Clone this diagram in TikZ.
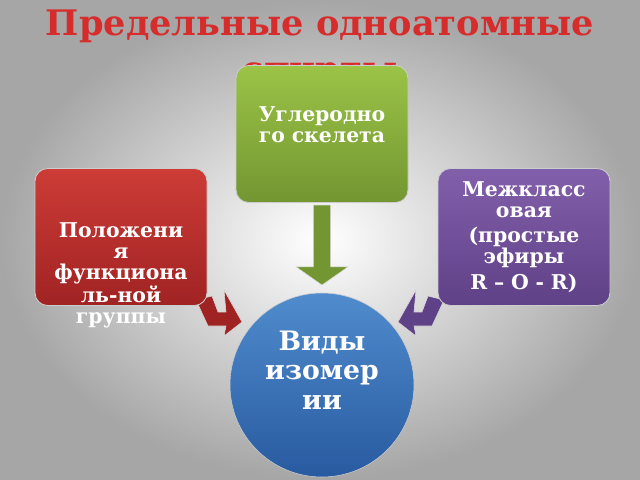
\documentclass[tikz,border=0pt]{standalone}
\usepackage{fontspec}
\setmainfont{DejaVu Serif}
\usetikzlibrary{shapes.arrows}
\definecolor{tred}{RGB}{214,44,44}
\definecolor{gtop}{RGB}{155,195,70}
\definecolor{gbot}{RGB}{115,150,50}
\definecolor{rtop}{RGB}{205,60,55}
\definecolor{rbot}{RGB}{160,35,35}
\definecolor{ptop}{RGB}{130,95,170}
\definecolor{pbot}{RGB}{95,65,135}
\definecolor{btop}{RGB}{80,140,205}
\definecolor{bbot}{RGB}{40,90,160}
\newlength\unitpx \setlength\unitpx{0.025cm}
\tikzset{
  card/.style={rounded corners=9pt,minimum width=172\unitpx,minimum height=137\unitpx,
    text width=168\unitpx,align=center,text=white,font=\bfseries\fontsize{14.5}{15}\selectfont,
    draw=white!60!gray,line width=0.6pt,inner sep=1pt},
}
\begin{document}
\begin{tikzpicture}[x=0.025cm,y=-0.025cm]
  \shade[inner color=white,outer color=gray!70] (0,0) rectangle (640,480);
  \useasboundingbox (0,0) rectangle (640,480);
  \node[text=tred,font=\bfseries\fontsize{25}{28}\selectfont] (title) at (320,26) {Предельные одноатомные};
  \node[text=tred,font=\bfseries\fontsize{25}{28}\selectfont] (title2) at (320,76) {спирты};
  % arrows
  \fill[rbot,draw=white!70!gray] (196,300) -- (212,296) -- (218,312) -- (226,312) -- (224,290)
    -- (242,322) -- (224,336) -- (226,326) -- (208,326) -- cycle;
  \fill[pbot,draw=white!70!gray] (444,300) -- (428,296) -- (422,312) -- (414,312) -- (416,290)
    -- (398,322) -- (416,336) -- (414,326) -- (432,326) -- cycle;
  % cards
  \node[card,top color=gtop,bottom color=gbot,text depth=40\unitpx] (carb) at (322,134) {Углеродно\\го скелета};
  \node[card,top color=rtop,bottom color=rbot,text depth=14\unitpx] (pos) at (121,237) {Положени\\я\\функциона\\ль-ной\\группы};
  \node[card,top color=ptop,bottom color=pbot] (inter) at (524,237) {Межкласс\\овая\\[3pt](простые\\эфиры\\[3pt]R – O - R)};
  \node[single arrow,shape border rotate=270,fill=gbot,draw=white!70!gray,
    minimum height=80\unitpx,minimum width=52\unitpx,single arrow head extend=10\unitpx,
    single arrow tip angle=110] (down) at (322,242) {};
  % circle
  \node[circle,minimum size=184\unitpx,top color=btop,bottom color=bbot,draw=white!60!gray,
    text=white,align=center,text depth=30\unitpx,font=\bfseries\fontsize{19}{21}\selectfont] (kinds) at (322,385)
    {Виды\\изомер\\ии};
\end{tikzpicture}
\end{document}
